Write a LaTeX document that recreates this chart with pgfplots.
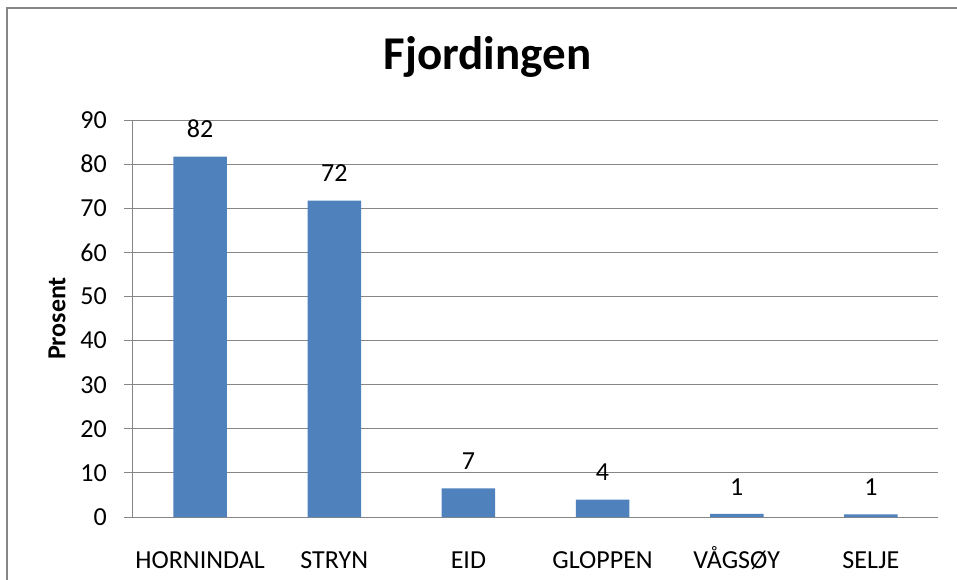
\documentclass[border=0pt]{standalone}
\usepackage{pgfplots}
\pgfplotsset{compat=1.18}
\usepackage{fontspec}
\setmainfont{Carlito}
\definecolor{barblue}{HTML}{4F81BD}
\definecolor{gridgray}{HTML}{868686}
\begin{document}
\begin{tikzpicture}[x=1pt,y=1pt]
\useasboundingbox (-133,-62) rectangle (824,517);
\draw[gridgray, line width=2pt] (-126,-70) -- (-126,509) -- (830,509);
\node[font=\fontsize{47}{54}\selectfont\bfseries, anchor=base] at (354.5,447) {Fjordingen};
\begin{axis}[
  at={(0,0)}, anchor=south west,
  scale only axis, width=805pt, height=397pt,
  xmin=-0.5, xmax=5.5, ymin=0, ymax=90,
  ytick={0,10,...,90},
  xtick=data,
  xticklabels={HORNINDAL,STRYN,EID,GLOPPEN,VÅGSØY,SELJE},
  axis lines*=left,
  axis line style={gridgray, line width=1pt},
  ymajorgrids, grid style={gridgray, line width=1pt},
  xtick style={draw=none},
  ytick style={gridgray, line width=1pt},
  tick align=outside, major tick length=9pt,
  /pgf/number format/assume math mode=true,
  ticklabel style={font=\fontsize{26}{30}\selectfont},
  yticklabel style={inner sep=0pt, xshift=-17pt},
  xticklabel style={inner sep=0pt, anchor=base, yshift=-42pt},
  ylabel={Prosent},
  every axis y label/.style={at={(axis description cs:0,0.5)}, xshift=-76pt, rotate=90, anchor=center, font=\fontsize{26}{30}\selectfont\bfseries},
  ybar, bar width=53.5pt,
  point meta=explicit symbolic,
  nodes near coords,
  every node near coord/.append style={font=\fontsize{26}{30}\selectfont, inner sep=0pt, anchor=south, yshift=18.7pt},
  clip=false,
]
\addplot[fill=barblue, draw=none] table[meta=lab] {
x y lab
0 81.7 82
1 71.7 72
2 6.5 7
3 3.95 4
4 0.7 1
5 0.6 1
};
\end{axis}
\end{tikzpicture}
\end{document}
